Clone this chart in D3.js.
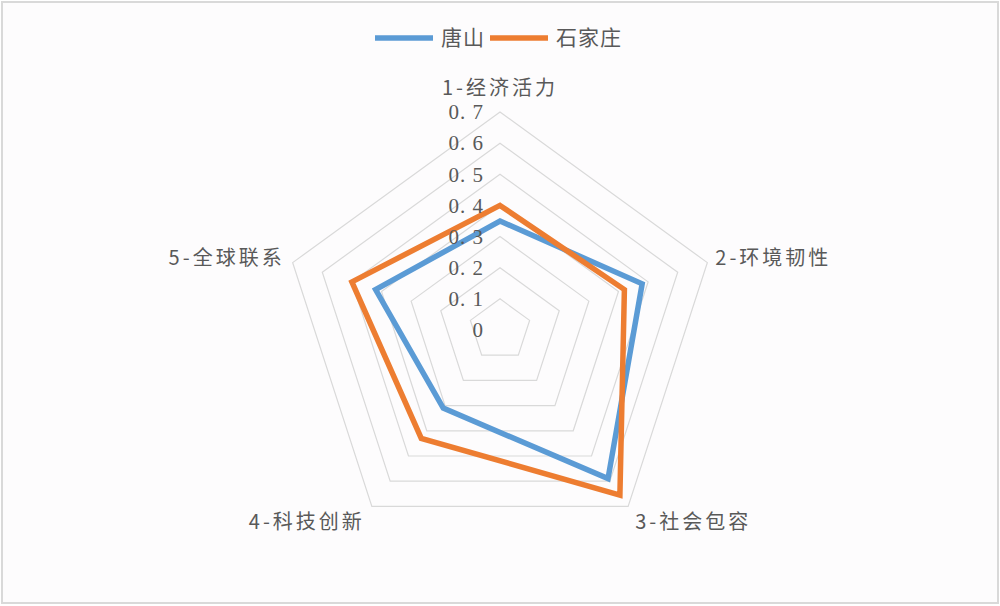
<!DOCTYPE html>
<html>
<head>
<meta charset="utf-8">
<script src="https://cdn.jsdelivr.net/npm/d3@7"></script>
<style>
body { margin: 0; background: #ffffff; }
svg { display: block; }
</style>
</head>
<body>
<script>
// data
var axes = ["1-经济活力", "2-环境韧性", "3-社会包容", "4-科技创新", "5-全球联系"];
var seriesNames = ["唐山", "石家庄"];
var tangshan = [0.35, 0.48, 0.59, 0.31, 0.42];
var shijiazhuang = [0.40, 0.42, 0.655, 0.43, 0.50];
var ticks = [0, 0.1, 0.2, 0.3, 0.4, 0.5, 0.6, 0.7];
var colors = ["#5b9bd5", "#ed7d31"];

var width = 1000, height = 606;
var cx = 500, cy = 330;

var svg = d3.select("body").append("svg")
    .attr("width", width)
    .attr("height", height);

// frame
svg.append("rect")
    .attr("x", 2).attr("y", 2)
    .attr("width", width - 4).attr("height", height - 5)
    .attr("fill", "#fdfcfd")
    .attr("stroke", "#d9d9d9")
    .attr("stroke-width", 2);

var r = d3.scaleLinear().domain([0, 0.7]).range([0, 218]);

var angle = function(i) { return -Math.PI / 2 + i * 2 * Math.PI / axes.length; };
var pt = function(v, i) { return [cx + r(v) * Math.cos(angle(i)), cy + r(v) * Math.sin(angle(i))]; };

var line = d3.line().curve(d3.curveLinearClosed);

// grid rings
svg.selectAll(".ring")
    .data(ticks.slice(1))
    .enter()
    .append("path")
    .attr("class", "ring")
    .attr("d", function(t) { return line(axes.map(function(a, i) { return pt(t, i); })); })
    .attr("fill", "none")
    .attr("stroke", "#d9d9d9")
    .attr("stroke-width", 1.2);

// series
var series = [tangshan, shijiazhuang];
svg.selectAll(".series")
    .data(series)
    .enter()
    .append("path")
    .attr("class", "series")
    .attr("d", function(d) { return line(d.map(function(v, i) { return pt(v, i); })); })
    .attr("fill", "none")
    .attr("stroke", function(d, i) { return colors[i]; })
    .attr("stroke-width", 5.5)
    .attr("stroke-linejoin", "miter");

// tick labels
svg.selectAll(".tick")
    .data(ticks)
    .enter()
    .append("text")
    .attr("class", "tick")
    .attr("x", 484)
    .attr("y", function(t) { return cy - r(t); })
    .attr("dy", "0.35em")
    .attr("text-anchor", "end")
    .attr("font-family", "'Liberation Serif', 'DejaVu Serif', serif")
    .attr("font-size", 21)
    .attr("letter-spacing", 1)
    .attr("fill", "#595959")
    .text(function(t) { return t === 0 ? "0" : d3.format(".1f")(t).replace(".", ". "); });

// axis labels
var labelPos = [
    { dx: 0, dy: -24, anchor: "middle" },
    { dx: 8, dy: -5, anchor: "start" },
    { dx: 7, dy: 16, anchor: "start" },
    { dx: -7, dy: 16, anchor: "end" },
    { dx: -8, dy: -5, anchor: "end" }
];
svg.selectAll(".axisLabel")
    .data(axes)
    .enter()
    .append("text")
    .attr("class", "axisLabel")
    .attr("x", function(d, i) { return pt(0.7, i)[0] + labelPos[i].dx; })
    .attr("y", function(d, i) { return pt(0.7, i)[1] + labelPos[i].dy; })
    .attr("dy", "0.35em")
    .attr("text-anchor", function(d, i) { return labelPos[i].anchor; })
    .attr("font-family", "'Noto Sans CJK SC', sans-serif")
    .attr("font-size", 20)
    .attr("letter-spacing", 3)
    .attr("fill", "#595959")
    .text(function(d) { return d; });

// legend
var legendX = [375, 490];
var legend = svg.selectAll(".legend")
    .data(seriesNames)
    .enter()
    .append("g")
    .attr("class", "legend")
    .attr("transform", function(d, i) { return "translate(" + legendX[i] + ",38)"; });
legend.append("line")
    .attr("x1", 0).attr("x2", 58)
    .attr("stroke", function(d, i) { return colors[i]; })
    .attr("stroke-width", 5.5);
legend.append("text")
    .attr("x", 66)
    .attr("dy", "0.35em")
    .attr("font-family", "'Noto Sans CJK SC', sans-serif")
    .attr("font-size", 21)
    .attr("letter-spacing", 1)
    .attr("fill", "#595959")
    .text(function(d) { return d; });
</script>
</body>
</html>
